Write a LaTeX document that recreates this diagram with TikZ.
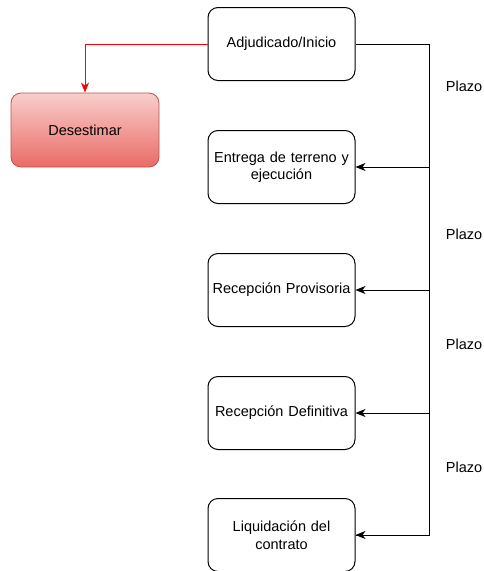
\documentclass[tikz,border=0pt]{standalone}
\usepackage{fontspec}
\setmainfont{Liberation Sans}
\usetikzlibrary{arrows.meta}
\definecolor{redtop}{HTML}{F8CECC}
\definecolor{redbot}{HTML}{EA6B66}
\definecolor{redborder}{HTML}{B85450}
\tikzset{
  stepbox/.style={draw=black, line width=1pt, rounded corners=10pt, minimum width=147pt, minimum height=73pt, inner sep=2pt, align=center, text width=143pt, font=\fontsize{14.5}{17.5}\selectfont},
  redbox/.style={draw=redborder, line width=0.8pt, rounded corners=10pt, minimum width=148pt, minimum height=74pt, top color=redtop, bottom color=redbot, font=\fontsize{14.5}{17.5}\selectfont},
  conn/.style={line width=1pt, -{Stealth[length=10pt,width=8pt,inset=3pt]}},
  plazo/.style={font=\fontsize{14.5}{17.5}\selectfont}
}
\begin{document}
\begin{tikzpicture}[x=1pt,y=-1pt]
\useasboundingbox (0,0) rectangle (484,571);
\node[stepbox] (a) at (281.5,44) {Adjudicado/Inicio};
\node[stepbox] (b) at (281.5,167) {Entrega de terreno y\\ejecución};
\node[stepbox] (c) at (281.5,290) {Recepción Provisoria};
\node[stepbox] (d) at (281.5,413) {Recepción Definitiva};
\node[stepbox] (e) at (281.5,535) {Liquidación del\\contrato};
\node[redbox] (x) at (85,130) {Desestimar};
\coordinate (v) at (429,44);
\draw[line width=1pt] (a.east) -- (v) |- (e.east);
\draw[conn] (v) |- (b.east);
\draw[conn] (v) |- (c.east);
\draw[conn] (v) |- (d.east);
\draw[conn] (v) |- (e.east);
\draw[conn, red] (a.west) -| (x.north);
\node[plazo] (p1) at (464,86) {Plazo};
\node[plazo] (p2) at (464,234) {Plazo};
\node[plazo] (p3) at (464,344) {Plazo};
\node[plazo] (p4) at (464,467) {Plazo};
\end{tikzpicture}
\end{document}
